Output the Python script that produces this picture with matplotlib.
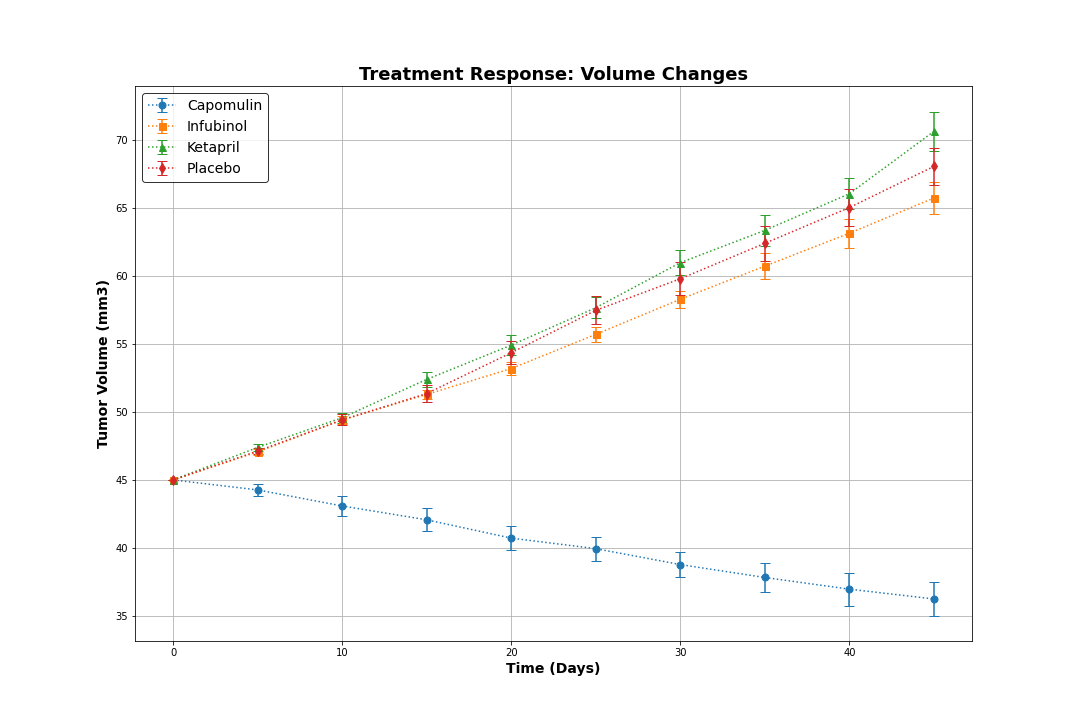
import numpy as np
import matplotlib.pyplot as plt

days = [0, 5, 10, 15, 20, 25, 30, 35, 40, 45]

capomulin = [45.0, 44.266, 43.084, 42.064, 40.716, 39.940, 38.769, 37.817, 36.958, 36.236]
capomulin_sem = [0, 0.449, 0.703, 0.839, 0.910, 0.882, 0.934, 1.052, 1.224, 1.224]
infubinol = [45.0, 47.062, 49.404, 51.296, 53.198, 55.715, 58.299, 60.742, 63.163, 65.756]
infubinol_sem = [0, 0.235, 0.282, 0.358, 0.476, 0.550, 0.631, 0.984, 1.055, 1.144]
ketapril = [45.0, 47.389, 49.582, 52.400, 54.921, 57.679, 60.995, 63.372, 66.069, 70.663]
ketapril_sem = [0, 0.265, 0.357, 0.580, 0.726, 0.755, 0.934, 1.128, 1.158, 1.453]
placebo = [45.0, 47.126, 49.423, 51.360, 54.364, 57.483, 59.809, 62.421, 65.053, 68.084]
placebo_sem = [0, 0.218, 0.402, 0.614, 0.840, 1.035, 1.218, 1.287, 1.371, 1.352]

fig, ax = plt.subplots(figsize=(15, 10), dpi=72)

series = [
    ("Capomulin", capomulin, capomulin_sem, "o"),
    ("Infubinol", infubinol, infubinol_sem, "s"),
    ("Ketapril", ketapril, ketapril_sem, "^"),
    ("Placebo", placebo, placebo_sem, "d"),
]
for name, vals, sem, m in series:
    ax.errorbar(days, vals, yerr=sem, marker=m, linestyle=":", capsize=5,
                markersize=7, label=name)

ax.set_title("Treatment Response: Volume Changes", fontsize=18, fontweight="bold")
ax.set_xlabel("Time (Days)", fontsize=14, fontweight="bold")
ax.set_ylabel("Tumor Volume (mm3)", fontsize=14, fontweight="bold")
ax.grid(True)
leg = ax.legend(loc="upper left", fontsize=14)
leg.get_frame().set_edgecolor("black")

fig.savefig("out.png", dpi=72)
